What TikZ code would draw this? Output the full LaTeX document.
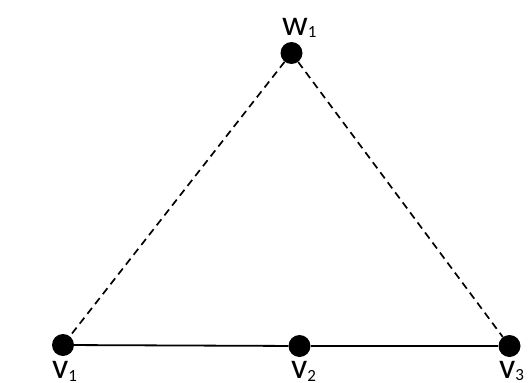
\documentclass[tikz,border=0pt]{standalone}
\usepackage{fontspec}
\setmainfont{Carlito}
\begin{document}
\begin{tikzpicture}[x=1pt,y=-1pt,
  dot/.style={circle,fill=black,inner sep=0pt,minimum size=22pt},
  lbl/.style={anchor=base west,inner sep=0pt,font=\fontsize{36}{38}\selectfont},
  edge/.style={line width=1.8pt},
  dedge/.style={line width=1.7pt,dash pattern=on 7.5pt off 5pt}]
\useasboundingbox (0,0) rectangle (528,383);
\node[dot] (w1) at (291.5,53) {};
\node[dot] (v1) at (63,345) {};
\node[dot] (v2) at (299.5,346) {};
\node[dot] (v3) at (509.5,346) {};
\draw[edge] (v1) -- (v2);
\draw[edge] (v2) -- (v3);
\draw[dedge] (w1) -- (v1);
\draw[dedge] (w1) -- (v3);
\newcommand{\lab}[2]{#1\raisebox{-2.5pt}{\fontsize{17}{17}\selectfont #2}}
\node[lbl] (tw1) at (282,35) {\lab{w}{1}};
\node[lbl] (tv1) at (52,378.5) {\lab{v}{1}};
\node[lbl] (tv2) at (291,378.5) {\lab{v}{2}};
\node[lbl] (tv3) at (499,378) {\lab{v}{3}};
\end{tikzpicture}
\end{document}
